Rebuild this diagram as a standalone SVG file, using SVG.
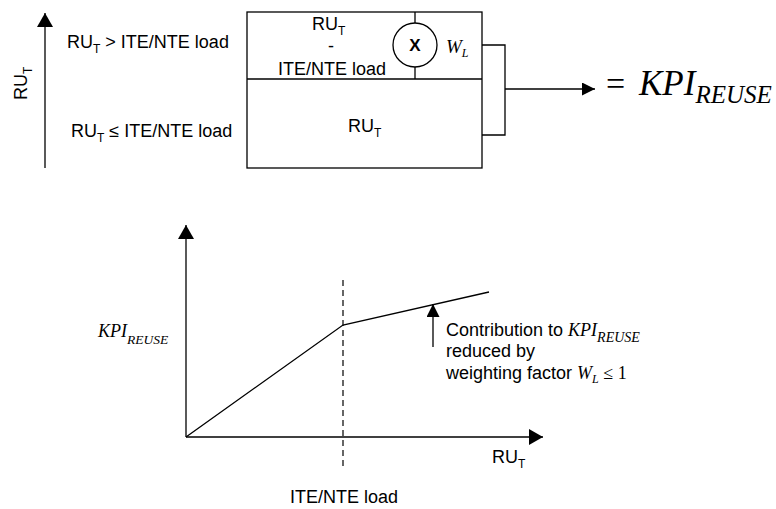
<svg xmlns="http://www.w3.org/2000/svg" width="776" height="509" viewBox="0 0 776 509">
<style>
.sans{font-family:"Liberation Sans",Arial,sans-serif;font-size:18px;fill:#000}
.serif{font-family:"Liberation Serif","Times New Roman",serif;font-style:italic;fill:#000}
.ln{stroke:#000;stroke-width:1.3;fill:none}
.sub{font-size:12px}
</style>
<defs>
<marker id="ah" markerUnits="userSpaceOnUse" markerWidth="15" markerHeight="17" refX="14" refY="8" orient="auto" viewBox="0 0 15 17">
<path d="M0,0 L14,8 L0,16 z" fill="#000"/>
</marker>
<marker id="ahs" markerUnits="userSpaceOnUse" markerWidth="14" markerHeight="14" refX="13" refY="6.5" orient="auto" viewBox="0 0 14 14">
<path d="M0,0 L13,6.5 L0,13 z" fill="#000"/>
</marker>
</defs>
<rect width="776" height="509" fill="#fff"/>

<g id="ru-axis">
<line class="ln" x1="45" y1="168" x2="45" y2="13" marker-end="url(#ah)"/>
<text class="sans" transform="translate(27,100) rotate(-90)">RU<tspan class="sub" dy="5">T</tspan></text>
</g>

<g id="cond-labels">
<text class="sans" x="67" y="48">RU<tspan class="sub" dy="5">T</tspan><tspan dy="-5"> &gt; ITE/NTE load</tspan></text>
<text class="sans" x="71" y="137">RU<tspan class="sub" dy="5">T</tspan><tspan dy="-5"> ≤ ITE/NTE load</tspan></text>
</g>

<g id="box">
<rect class="ln" x="247" y="12" width="235" height="156"/>
<line class="ln" x1="247" y1="79" x2="482" y2="79"/>
<line class="ln" x1="415" y1="12" x2="415" y2="79"/>
<text class="sans" x="312" y="30">RU<tspan class="sub" dy="5">T</tspan></text>
<text class="sans" x="331" y="52" text-anchor="middle">-</text>
<text class="sans" x="332" y="75" text-anchor="middle">ITE/NTE load</text>
<text class="sans" x="348" y="132">RU<tspan class="sub" dy="5">T</tspan></text>
</g>

<g id="multiplier">
<circle cx="415" cy="45" r="22" fill="#fff" stroke="#000" stroke-width="1.3"/>
<text x="415" y="51" text-anchor="middle" style="font-family:'Liberation Sans',Arial,sans-serif;font-weight:bold;font-size:17px">X</text>
<text class="serif" x="446" y="53" font-size="19">W<tspan font-size="12" dy="4">L</tspan></text>
</g>

<g id="result">
<text x="606" y="95" style="font-family:'Liberation Serif','Times New Roman',serif;font-size:34px">=</text>
<text class="serif" x="639" y="95"><tspan font-size="35">KPI</tspan><tspan font-size="25" dy="8">REUSE</tspan></text>
</g>

<g id="connectors">
<path class="ln" d="M482,45 H505 V135 H482"/>
<line class="ln" x1="505" y1="89" x2="595" y2="89" marker-end="url(#ahs)"/>
</g>

<g id="chart">
<line class="ln" x1="186" y1="437" x2="186" y2="225" marker-end="url(#ah)"/>
<line class="ln" x1="186" y1="437" x2="543" y2="437" marker-end="url(#ah)"/>
<line x1="343" y1="280" x2="343" y2="470" stroke="#000" stroke-width="1.2" stroke-dasharray="6,4"/>
<polyline class="ln" points="186,437 343,325 489,292"/>
<line class="ln" x1="433" y1="347" x2="433" y2="304" marker-end="url(#ahs)"/>
<text class="serif" x="98" y="337"><tspan font-size="18">KPI</tspan><tspan font-size="13.5" dy="7">REUSE</tspan></text>
<text class="sans" x="492" y="463">RU<tspan class="sub" dy="5">T</tspan></text>
<text class="sans" x="290" y="503">ITE/NTE load</text>
</g>

<g id="annotation">
<text class="sans" x="446" y="336">Contribution to <tspan class="serif" font-size="18">KPI</tspan><tspan class="serif" font-size="14" dy="6">REUSE</tspan></text>
<text class="sans" x="446" y="357">reduced by</text>
<text class="sans" x="446" y="379">weighting factor <tspan class="serif" font-size="18">W</tspan><tspan class="serif" font-size="12" dy="4">L</tspan><tspan dy="-4" style="font-family:'Liberation Serif','Times New Roman',serif" font-size="18"> ≤ 1</tspan></text>
</g>
</svg>
